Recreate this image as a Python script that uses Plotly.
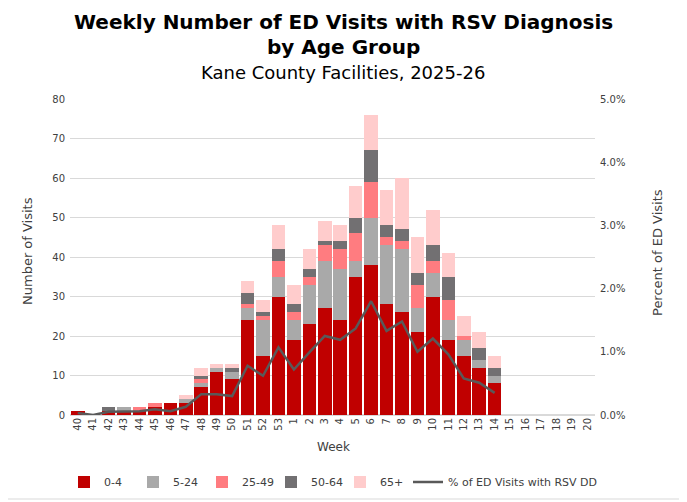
import plotly.graph_objects as go

# -------------------------------
# DATA
# -------------------------------
weeks = [str(w) for w in range(40, 54)] + [str(w) for w in range(1, 21)]

age_0_4 = [1, 0, 1, 1, 1, 2, 3, 3, 7, 11, 9, 24, 15, 30,
           19, 23, 27, 24, 35, 38, 28, 26, 21, 30, 19, 15, 12, 8]
age_5_24 = [0, 0, 0, 1, 0, 0, 0, 1, 1, 1, 2, 3, 9, 5,
            5, 10, 12, 13, 4, 12, 15, 16, 6, 6, 5, 4, 2, 2]
age_25_49 = [0, 0, 0, 0, 1, 1, 0, 0, 1, 0, 0, 1, 1, 4,
             2, 2, 4, 5, 7, 9, 2, 2, 6, 3, 5, 1, 0, 0]
age_50_64 = [0, 0, 1, 0, 0, 0, 0, 0, 1, 0, 1, 3, 1, 3,
             2, 2, 1, 2, 4, 8, 3, 3, 3, 4, 6, 0, 3, 2]
age_65 = [0, 0, 0, 0, 0, 0, 0, 1, 2, 1, 1, 3, 3, 6,
          5, 5, 5, 4, 8, 9, 9, 13, 9, 9, 6, 5, 4, 3]

# % of ED visits with RSV discharge diagnosis
pct_rsv = [0.0003, 0.0, 0.0005, 0.0006, 0.0006, 0.0009, 0.0006, 0.0013,
           0.0033, 0.0033, 0.0030, 0.0078, 0.0062, 0.0107,
           0.0072, 0.0099, 0.0125, 0.0119, 0.0137, 0.0180, 0.0133,
           0.0148, 0.0100, 0.0121, 0.0096, 0.0058, 0.0051, 0.0035]

series = [
    ("0-4", age_0_4, "#C00000"),
    ("5-24", age_5_24, "#A9A9A9"),
    ("25-49", age_25_49, "#FF7C80"),
    ("50-64", age_50_64, "#727072"),
    ("65+", age_65, "#FFCCCC"),
]

# -------------------------------
# LAYOUT GEOMETRY
# the page body has an 8px margin, so the figure is drawn 8px smaller
# and all positions below are given in page pixels
# -------------------------------
OFF = 8
PAGE_W, PAGE_H = 687, 502
X0, X1, Y0, Y1 = 70, 595, 99, 415      # plot area on the page
W, H = PAGE_W - OFF, PAGE_H - OFF
PW, PH = X1 - X0, Y1 - Y0


def px_x(x):
    return (x - X0) / PW


def px_y(y):
    return (Y1 - y) / PH


FONT = "DejaVu Sans"
GREY_TXT = "#404040"
LEG_Y = 1 - (482 - OFF) / H

fig = go.Figure()

for name, vals, color in series:
    fig.add_trace(go.Bar(
        x=weeks[:len(vals)],
        y=vals,
        name=name,
        marker=dict(color=color, line=dict(width=0)),
        legend="legend",
    ))

fig.add_trace(go.Scatter(
    x=weeks[:len(pct_rsv)],
    y=pct_rsv,
    name="% of ED Visits with RSV DD",
    mode="lines",
    line=dict(color="#595959", width=2.5),
    yaxis="y2",
    legend="legend2",
))

fig.update_layout(
    width=W, height=H,
    margin=dict(l=X0 - OFF, r=PAGE_W - X1, t=Y0 - OFF, b=PAGE_H - Y1),
    barmode="stack",
    bargap=0.12,
    plot_bgcolor="white",
    paper_bgcolor="white",
    font=dict(family=FONT, size=10, color=GREY_TXT),
    showlegend=True,
    legend=dict(
        orientation="h",
        xref="container", yref="container",
        x=(64 - OFF) / W, xanchor="left",
        y=LEG_Y, yanchor="middle",
        font=dict(family=FONT, size=11, color=GREY_TXT),
        traceorder="normal",
        itemwidth=30,
        entrywidthmode="pixels",
        entrywidth=24,
    ),
    legend2=dict(
        orientation="h",
        xref="container", yref="container",
        x=(408 - OFF) / W, xanchor="left",
        y=LEG_Y, yanchor="middle",
        font=dict(family=FONT, size=11, color=GREY_TXT),
        itemwidth=30,
    ),
    xaxis=dict(
        type="category",
        categoryorder="array",
        categoryarray=weeks,
        range=[-0.5, len(weeks) - 0.5],
        tickangle=-90,
        ticks="",
        showgrid=False,
        showline=False,
        tickfont=dict(family=FONT, size=10, color=GREY_TXT),
    ),
    yaxis=dict(
        range=[0, 80],
        dtick=10,
        ticks="",
        ticklabelstandoff=4,
        showgrid=True,
        gridcolor="#D9D9D9",
        gridwidth=1,
        zeroline=True,
        zerolinecolor="#D9D9D9",
        showline=False,
        tickfont=dict(family=FONT, size=10, color=GREY_TXT),
    ),
    yaxis2=dict(
        range=[0, 0.05],
        dtick=0.01,
        tickformat=".1%",
        overlaying="y",
        side="right",
        showgrid=False,
        zeroline=False,
        ticks="",
        ticklabelstandoff=4,
        tickfont=dict(family=FONT, size=10, color=GREY_TXT),
    ),
)

# titles
annots = [
    dict(text="<b>Weekly Number of ED Visits with RSV Diagnosis</b>",
         x=343, y=22, size=20, color="black"),
    dict(text="<b>by Age Group</b>", x=343, y=47, size=20, color="black"),
    dict(text="Kane County Facilities, 2025-26", x=343, y=72, size=18, color="black"),
    dict(text="Week", x=333, y=447, size=12, color=GREY_TXT),
]
for a in annots:
    fig.add_annotation(
        text=a["text"], x=px_x(a["x"]), y=px_y(a["y"]),
        xref="paper", yref="paper", showarrow=False,
        xanchor="center", yanchor="middle",
        font=dict(family=FONT, size=a["size"], color=a["color"]),
    )

fig.add_annotation(
    text="Number of Visits", x=px_x(27), y=px_y(251),
    xref="paper", yref="paper", showarrow=False, textangle=-90,
    xanchor="center", yanchor="middle",
    font=dict(family=FONT, size=13, color=GREY_TXT),
)
fig.add_annotation(
    text="Percent of ED Visits", x=px_x(657), y=px_y(253),
    xref="paper", yref="paper", showarrow=False, textangle=-90,
    xanchor="center", yanchor="middle",
    font=dict(family=FONT, size=13, color=GREY_TXT),
)

# light frame around the chart
fig.add_shape(
    type="rect", xref="paper", yref="paper",
    x0=px_x(3), x1=px_x(683), y0=px_y(499), y1=px_y(3),
    line=dict(color="#D9D9D9", width=1), layer="below",
)

fig.write_html("out.html")
